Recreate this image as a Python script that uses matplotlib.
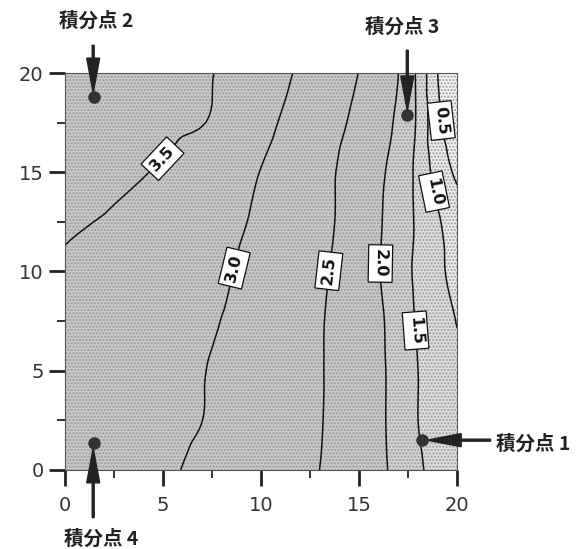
import numpy as np
import matplotlib
matplotlib.use("Agg")
import matplotlib.pyplot as plt
import matplotlib.tri as mtri
from matplotlib.ticker import MultipleLocator

plt.rcParams['font.family'] = ['DejaVu Sans']
plt.rcParams['hatch.color'] = '#9a9a9a'
plt.rcParams['hatch.linewidth'] = 1.0

# grid where the field was sampled
xs = [0, 2.5, 5, 7.5, 10, 12.5, 15, 16, 17, 18, 19, 20]
ys = [0, 2.5, 5, 7.5, 10, 12.5, 15, 17.5, 20]

# sampled values, one row per y
z_y00 = [3.30, 3.17, 3.05, 2.90, 2.72, 2.55, 2.24, 2.09, 1.87, 1.56, 1.39, 1.20]
z_y25 = [3.33, 3.22, 3.10, 2.97, 2.77, 2.57, 2.26, 2.08, 1.83, 1.50, 1.35, 1.20]
z_y50 = [3.36, 3.24, 3.12, 2.98, 2.78, 2.58, 2.25, 2.08, 1.83, 1.50, 1.30, 1.15]
z_y75 = [3.40, 3.28, 3.15, 3.03, 2.81, 2.59, 2.24, 2.07, 1.79, 1.45, 1.23, 0.98]
z_y100 = [3.45, 3.33, 3.20, 3.07, 2.89, 2.63, 2.24, 2.02, 1.72, 1.40, 1.10, 0.85]
z_y125 = [3.56, 3.45, 3.29, 3.12, 2.94, 2.67, 2.29, 2.05, 1.73, 1.43, 1.05, 0.80]
z_y150 = [3.75, 3.60, 3.45, 3.21, 2.99, 2.69, 2.30, 2.09, 1.79, 1.38, 0.80, 0.40]
z_y175 = [3.90, 3.75, 3.62, 3.47, 3.11, 2.77, 2.39, 2.17, 1.91, 1.42, 0.60, 0.20]
z_y200 = [4.00, 3.85, 3.70, 3.51, 3.20, 2.88, 2.49, 2.26, 2.00, 1.40, 0.50, 0.10]

line_levels = [0.5, 1.0, 1.5, 2.0, 2.5, 3.0, 3.5]
fill_levels = [-1.0, 0.5, 1.0, 1.5, 2.0, 5.0]
fill_colors = ['#f4f4f4', '#ececec', '#dedede', '#d2d2d2', '#c9c9c9']

# where each contour carries its label
label_pos = [(19.1, 17.6), (18.7, 14.0), (17.5, 7.0), (16.1, 10.4),
             (13.8, 10.0), (8.9, 10.1), (4.85, 15.8)]
flipped_labels = ['2.0']

# integration points and their callouts
pt_names = ['積分点 1', '積分点 2', '積分点 3', '積分点 4']
pt_x = [18.2, 1.45, 17.45, 1.48]
pt_y = [1.5, 18.8, 17.9, 1.36]
tail_xy = [(21.7, 1.5), (1.43, 21.4), (17.45, 21.15), (1.43, -2.4)]
tip_xy = [(18.45, 1.5), (1.43, 19.0), (17.45, 18.1), (1.43, 1.1)]
text_xy = [(22.0, 1.3), (1.6, 22.6), (17.2, 22.3), (1.85, -3.5)]
text_ha = ['left', 'center', 'center', 'center']

Z = np.array([z_y00, z_y25, z_y50, z_y75, z_y100, z_y125, z_y150, z_y175, z_y200])
X, Y = np.meshgrid(xs, ys)

# smooth the coarse grid with a cubic triangulation refinement
tri = mtri.Triangulation(X.ravel(), Y.ravel())
refiner = mtri.UniformTriRefiner(tri)
interp = mtri.CubicTriInterpolator(tri, Z.ravel(), kind='geom')
tri_f, z_f = refiner.refine_field(Z.ravel(), triinterpolator=interp, subdiv=3)

fig = plt.figure(figsize=(5.87, 5.49), dpi=100)
ax = fig.add_axes([0.111, 0.144, 0.668, 0.723])

ax.tricontourf(tri_f, z_f, levels=fill_levels, colors=fill_colors, hatches=['.....'])
cs = ax.tricontour(tri_f, z_f, levels=line_levels, colors='#111111', linewidths=1.1)
labels = ax.clabel(cs, fmt='%.1f', manual=label_pos, inline=True, inline_spacing=3,
                   fontsize=11.5)
for t in labels:
    t.set_fontweight('bold')
    t.set_bbox(dict(facecolor='white', edgecolor='#111111', linewidth=0.9, pad=3.2))
    if t.get_text() in flipped_labels:
        t.set_rotation(t.get_rotation() - 180)

for name, tail, tip, txy, ha in zip(pt_names, tail_xy, tip_xy, text_xy, text_ha):
    ax.arrow(tail[0], tail[1], tip[0] - tail[0], tip[1] - tail[1],
             width=0.1, head_width=0.66, head_length=1.75, length_includes_head=True,
             color='#222222', clip_on=False, zorder=4)
    ax.text(txy[0], txy[1], name, ha=ha, va='center', fontsize=14, fontweight='bold',
            family=['Noto Sans CJK JP', 'DejaVu Sans'], color='#222222', clip_on=False)

ax.plot(pt_x, pt_y, 'o', color='#333333', markersize=8, zorder=6)

ax.set_xlim(0, 20)
ax.set_ylim(0, 20)
ax.xaxis.set_major_locator(MultipleLocator(5))
ax.yaxis.set_major_locator(MultipleLocator(5))
ax.xaxis.set_minor_locator(MultipleLocator(2.5))
ax.yaxis.set_minor_locator(MultipleLocator(2.5))
ax.tick_params(which='major', direction='out', length=11.5, width=2.0, labelsize=14,
               color='#222222', labelcolor='#333333')
ax.tick_params(axis='x', which='major', pad=7)
ax.tick_params(axis='y', which='major', pad=4)
ax.tick_params(which='minor', direction='out', length=6, width=1.3, color='#222222')
for s in ax.spines.values():
    s.set_linewidth(0.8)
    s.set_color('#555555')

fig.savefig('out.png', dpi=100)
